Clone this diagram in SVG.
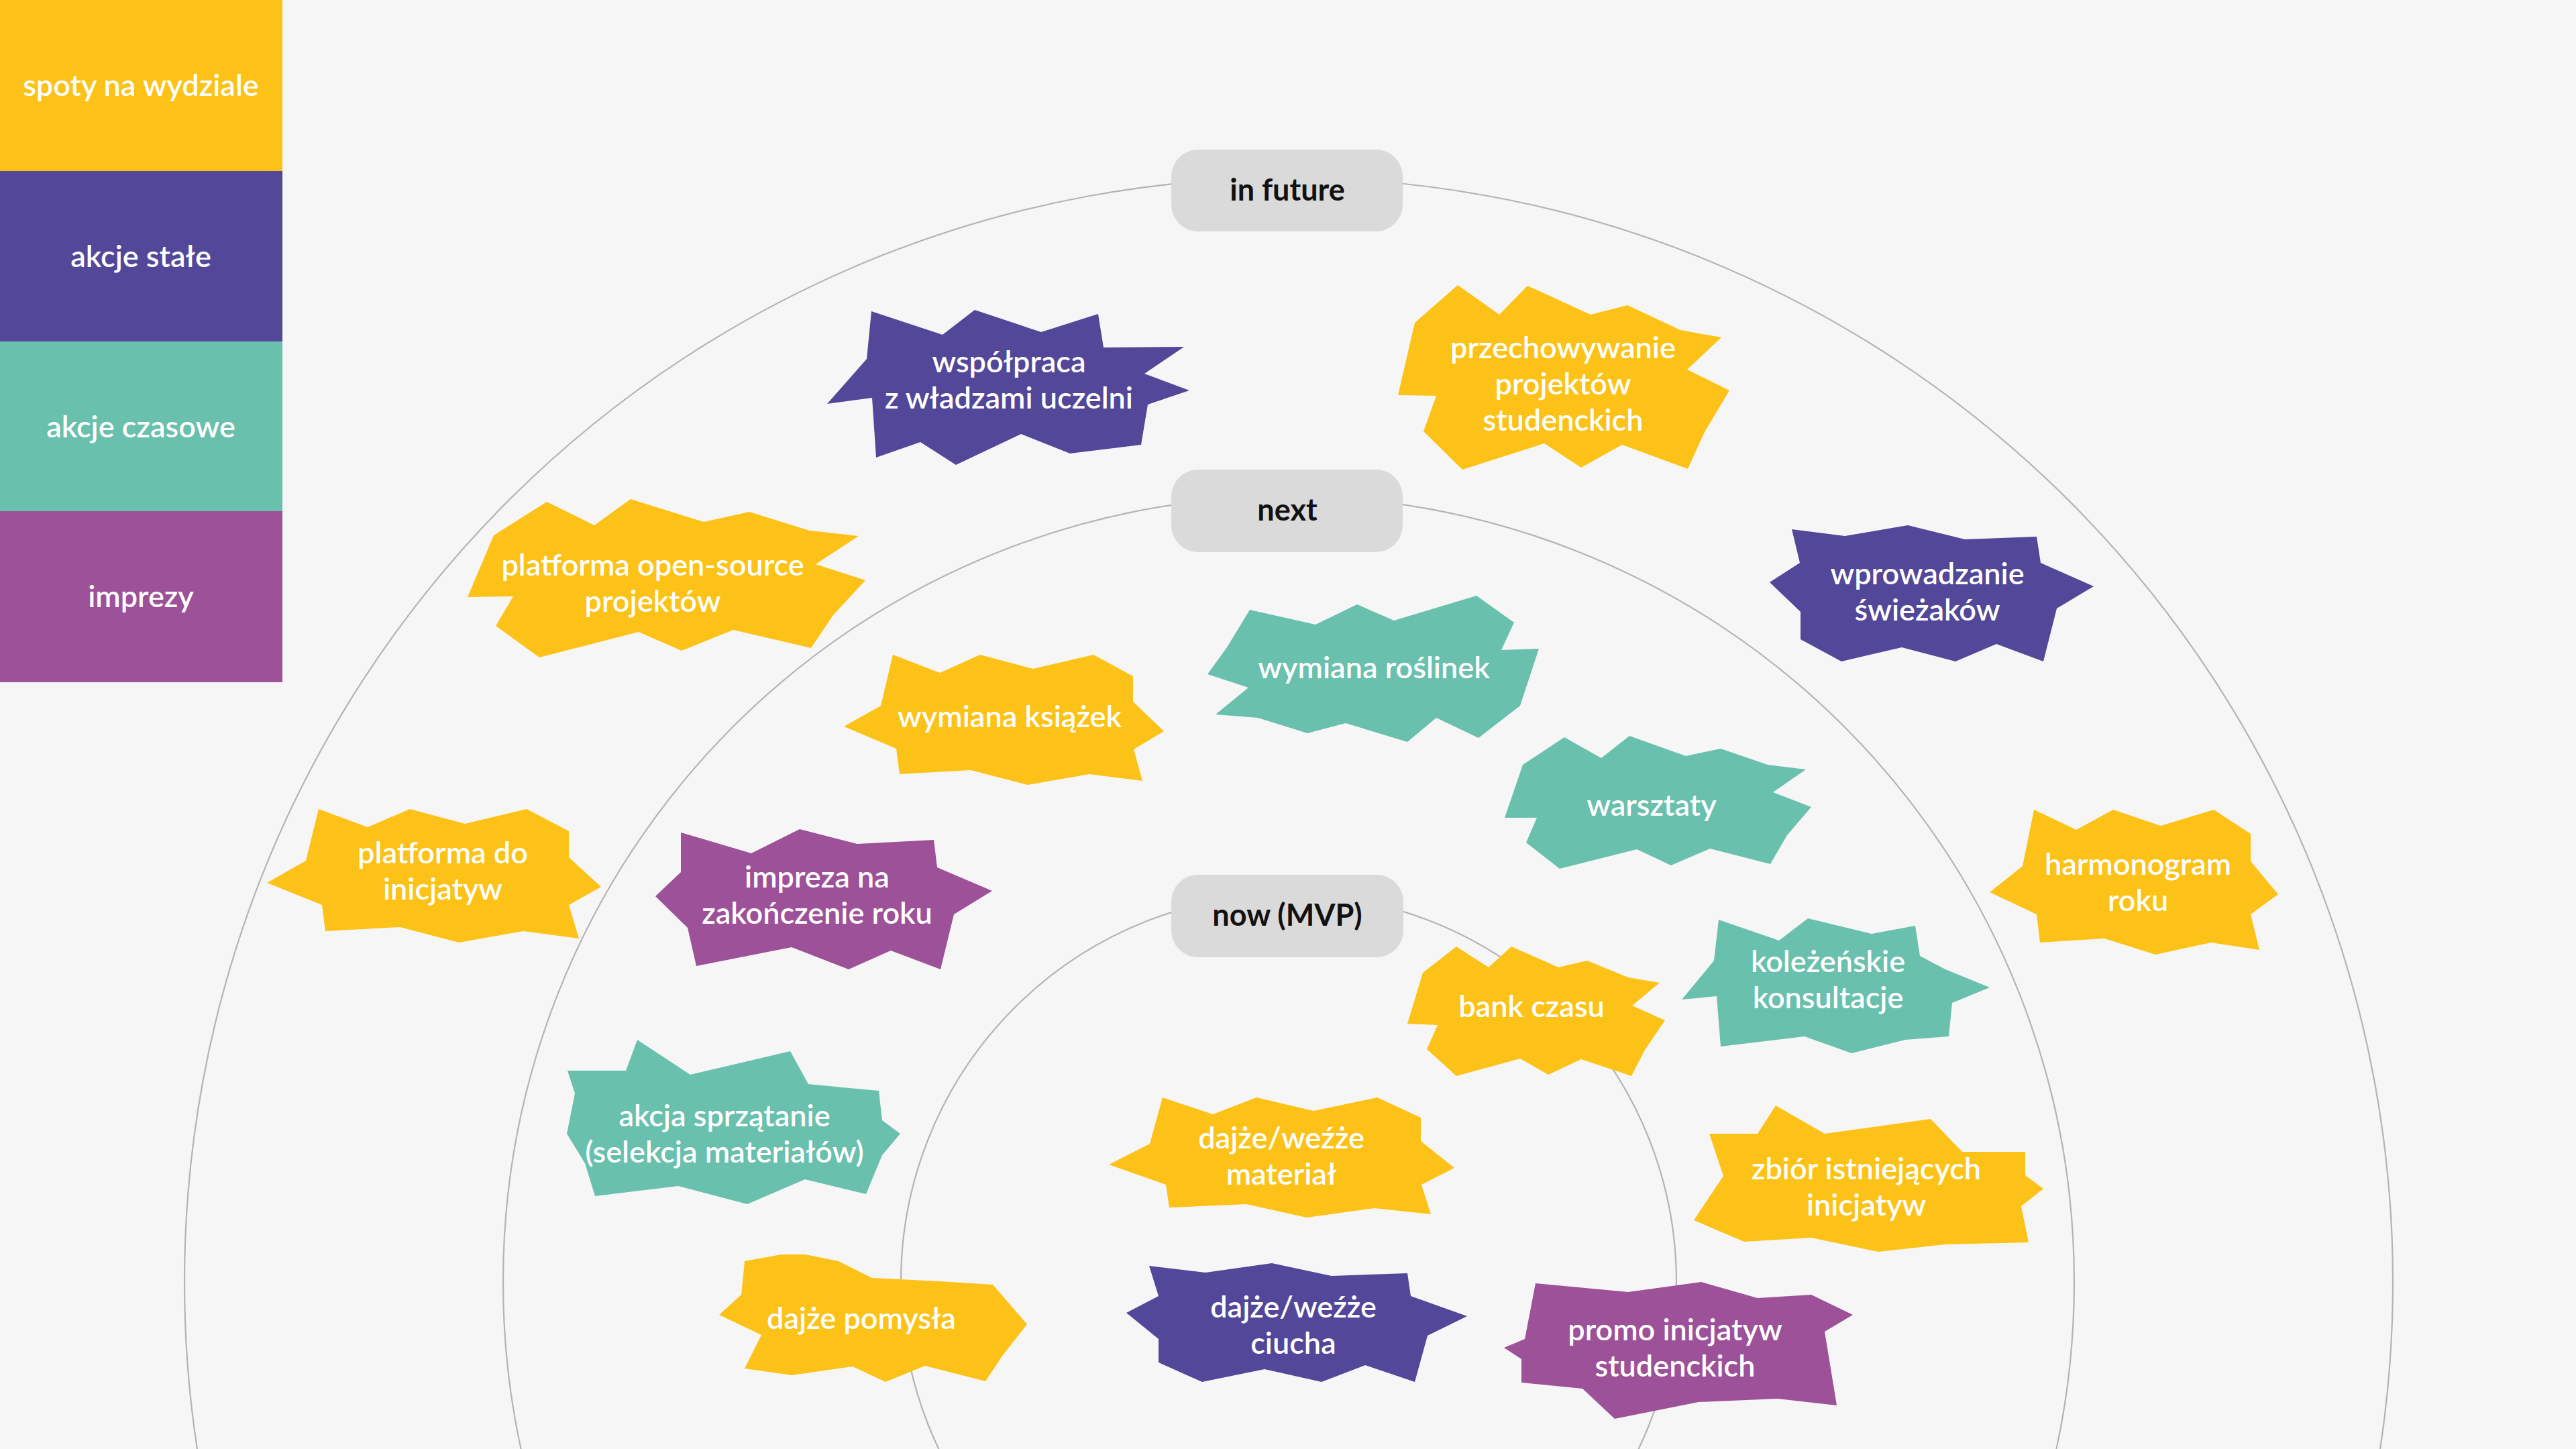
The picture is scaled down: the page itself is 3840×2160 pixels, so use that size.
<svg xmlns="http://www.w3.org/2000/svg" width="3840" height="2160" viewBox="0 0 3840 2160">
<style>
.bg{fill:#f6f6f6}
.ring{fill:none;stroke:#b4b4b4;stroke-width:2.2}
.pill{fill:#dadada}
.pt{font-family:Lato,"Liberation Sans",sans-serif;font-weight:700;font-size:45px;fill:#111;text-anchor:middle}
.nt{font-family:Lato,"Liberation Sans",sans-serif;font-weight:600;font-size:45px;fill:#fff;text-anchor:middle}
.lt{font-family:Lato,"Liberation Sans",sans-serif;font-weight:600;font-size:45px;fill:#fff;text-anchor:middle}
.y{fill:#fdc217}
.p{fill:#524798}
.t{fill:#69c0ac}
.m{fill:#9d5198}
</style>
<rect class="bg" x="0" y="0" width="3840" height="2160"/>
<g id="rings">
<circle class="ring" cx="1921" cy="1911" r="578"/>
<circle class="ring" cx="1921" cy="1911" r="1171"/>
<circle class="ring" cx="1921" cy="1911" r="1646"/>
</g>
<g id="connectors"></g>
<g id="stage-future"><rect class="pill" x="1746" y="223" width="345" height="122" rx="40"/><text class="pt" x="1919" y="299">in future</text></g>
<g id="stage-next"><rect class="pill" x="1746" y="700" width="345" height="123" rx="40"/><text class="pt" x="1919" y="776">next</text></g>
<g id="stage-now"><rect class="pill" x="1746" y="1304" width="346" height="123" rx="40"/><text class="pt" x="1919" y="1380">now (MVP)</text></g>

<g id="wspolpraca"><polygon class="p" points="1299,464 1405,499 1453,462 1552,495 1637,468 1645,518 1765,517 1706,557 1773,582 1711,603 1701,663 1595,676 1522,647 1425,693 1372,659 1306,682 1300,593 1233,602 1292,535"/><text class="nt"><tspan x="1504" y="555">współpraca</tspan><tspan x="1504" y="609">z władzami uczelni</tspan></text></g>

<g id="przechowywanie"><polygon class="y" points="2173,425 2235,469 2277,426 2371,469 2426,455 2505,492 2566,503 2515,551 2578,582 2541,644 2516,699 2418,663 2357,697 2302,661 2180,700 2122,643 2141,590 2084,589 2109,481"/><text class="nt"><tspan x="2330" y="534">przechowywanie</tspan><tspan x="2330" y="588">projektów</tspan><tspan x="2330" y="642">studenckich</tspan></text></g>

<g id="wprowadzanie"><polygon class="p" points="2671,789 2750,799 2844,783 2929,804 3036,800 3042,839 3121,874 3066,907 3046,986 2976,960 2915,986 2835,965 2745,986 2684,953 2684,912 2638,868 2683,839"/><text class="nt"><tspan x="2873" y="871">wprowadzanie</tspan><tspan x="2873" y="925">świeżaków</tspan></text></g>

<g id="platforma-open"><polygon class="y" points="815,748 886,783 940,744 1049,778 1117,763 1207,791 1280,799 1216,841 1290,865 1242,917 1209,966 1093,939 1016,970 952,942 804,980 739,933 765,889 697,890 736,798"/><text class="nt"><tspan x="973" y="858">platforma open-source</tspan><tspan x="973" y="912">projektów</tspan></text></g>

<g id="platforma-do"><polygon class="y" points="475,1206 548,1233 611,1206 693,1228 785,1206 848,1239 848,1278 896,1322 848,1349 863,1399 780,1388 684,1405 596,1382 485,1388 480,1349 398,1316 456,1283"/><text class="nt"><tspan x="660" y="1287">platforma do</tspan><tspan x="660" y="1341">inicjatyw</tspan></text></g>

<g id="wymiana-ksiazek"><polygon class="y" points="1331,976 1401,1003 1461,976 1540,997 1630,976 1689,1008 1689,1046 1735,1090 1690,1117 1703,1164 1624,1154 1532,1170 1447,1148 1341,1154 1336,1116 1258,1083 1313,1052"/><text class="nt" x="1505" y="1084">wymiana książek</text></g>

<g id="wymiana-roslinek"><polygon class="t" points="1863,909 1961,931 2023,901 2078,925 2201,888 2257,928 2238,969 2294,967 2266,1052 2204,1100 2141,1070 2098,1106 2006,1078 1949,1093 1875,1070 1812,1065 1861,1025 1800,1005 1829,965"/><text class="nt" x="2048" y="1011">wymiana roślinek</text></g>

<g id="warsztaty"><polygon class="t" points="2332,1099 2387,1130 2429,1097 2513,1127 2565,1116 2635,1140 2692,1147 2643,1181 2700,1203 2664,1245 2639,1288 2549,1265 2491,1290 2440,1266 2325,1295 2275,1256 2291,1219 2243,1219 2270,1140"/><text class="nt" x="2462" y="1216">warsztaty</text></g>

<g id="impreza"><polygon class="m" points="1015,1241 1120,1272 1192,1236 1278,1258 1392,1252 1397,1293 1479,1328 1422,1363 1402,1445 1328,1417 1265,1445 1180,1412 1038,1440 1025,1383 977,1336 1015,1300"/><text class="nt"><tspan x="1218" y="1323">impreza na</tspan><tspan x="1218" y="1377">zakończenie roku</tspan></text></g>

<g id="bank-czasu"><polygon class="y" points="2171,1411 2219,1442 2253,1411 2323,1442 2366,1432 2427,1457 2474,1465 2433,1499 2482,1521 2452,1565 2432,1604 2357,1579 2308,1602 2266,1578 2171,1604 2127,1564 2143,1528 2098,1526 2121,1450"/><text class="nt" x="2283" y="1516">bank czasu</text></g>

<g id="kolezenskie"><polygon class="t" points="2562,1371 2652,1402 2695,1369 2790,1392 2855,1380 2862,1425 2900,1445 2966,1472 2910,1495 2905,1545 2840,1550 2760,1570 2690,1545 2565,1560 2559,1485 2507,1490 2555,1432"/><text class="nt"><tspan x="2725" y="1449">koleżeńskie</tspan><tspan x="2725" y="1503">konsultacje</tspan></text></g>

<g id="harmonogram"><polygon class="y" points="3032,1207 3095,1237 3150,1207 3221,1231 3300,1207 3355,1243 3355,1284 3396,1333 3355,1363 3368,1416 3296,1405 3213,1423 3137,1399 3041,1405 3036,1363 2966,1330 3015,1291"/><text class="nt"><tspan x="3187" y="1304">harmonogram</tspan><tspan x="3187" y="1358">roku</tspan></text></g>

<g id="akcja-sprzatanie"><polygon class="t" points="846,1596 933,1596 950,1550 1029,1602 1178,1567 1205,1616 1310,1626 1315,1670 1342,1690 1315,1722 1291,1780 1200,1758 1114,1795 1011,1768 887,1783 872,1734 845,1690 857,1630"/><text class="nt"><tspan x="1080" y="1679">akcja sprzątanie</tspan><tspan x="1080" y="1733">(selekcja materiałów)</tspan></text></g>

<g id="dajze-material"><polygon class="y" points="1733,1636 1808,1661 1873,1636 1958,1656 2053,1636 2118,1666 2118,1701 2168,1741 2119,1766 2133,1810 2049,1801 1948,1815 1858,1795 1743,1800 1738,1766 1653,1736 1714,1705"/><text class="nt"><tspan x="1910" y="1712">dajże/weźże</tspan><tspan x="1910" y="1766">materiał</tspan></text></g>

<g id="zbior"><polygon class="y" points="2548,1690 2620,1690 2647,1648 2720,1690 2878,1668 2925,1717 3019,1717 3019,1752 3046,1772 3013,1798 3024,1852 2900,1855 2800,1866 2700,1845 2600,1851 2525,1819 2569,1753"/><text class="nt"><tspan x="2782" y="1758">zbiór istniejących</tspan><tspan x="2782" y="1812">inicjatyw</tspan></text></g>

<g id="dajze-pomysla"><polygon class="y" points="1110,1880 1165,1870 1200,1870 1250,1880 1300,1905 1400,1910 1480,1915 1531,1974 1495,2020 1469,2059 1379,2036 1320,2060 1271,2037 1180,2050 1110,2040 1135,1990 1072,1960 1105,1930"/><text class="nt" x="1284" y="1981">dajże pomysła</text></g>

<g id="dajze-ciucha"><polygon class="p" points="1713,1887 1797,1897 1896,1883 1985,1902 2098,1898 2103,1932 2187,1962 2128,1991 2109,2060 2035,2035 1970,2060 1885,2041 1792,2060 1727,2031 1727,1996 1679,1957 1727,1932"/><text class="nt"><tspan x="1928" y="1964">dajże/weźże</tspan><tspan x="1928" y="2018">ciucha</tspan></text></g>

<g id="promo"><polygon class="m" points="2289,1913 2427,1926 2536,1911 2620,1935 2700,1930 2762,1960 2720,1985 2738,2095 2650,2085 2532,2090 2407,2115 2359,2070 2268,2061 2268,2026 2242,2009 2273,1996"/><text class="nt"><tspan x="2497" y="1998">promo inicjatyw</tspan><tspan x="2497" y="2052">studenckich</tspan></text></g>

<g id="legend">
<rect class="y" x="0" y="0" width="421" height="255"/><text class="lt" x="210" y="143">spoty na wydziale</text>
<rect class="p" x="0" y="255" width="421" height="254"/><text class="lt" x="210" y="398">akcje stałe</text>
<rect class="t" x="0" y="509" width="421" height="253"/><text class="lt" x="210" y="652">akcje czasowe</text>
<rect class="m" x="0" y="762" width="421" height="255"/><text class="lt" x="210" y="905">imprezy</text>
</g>
</svg>
